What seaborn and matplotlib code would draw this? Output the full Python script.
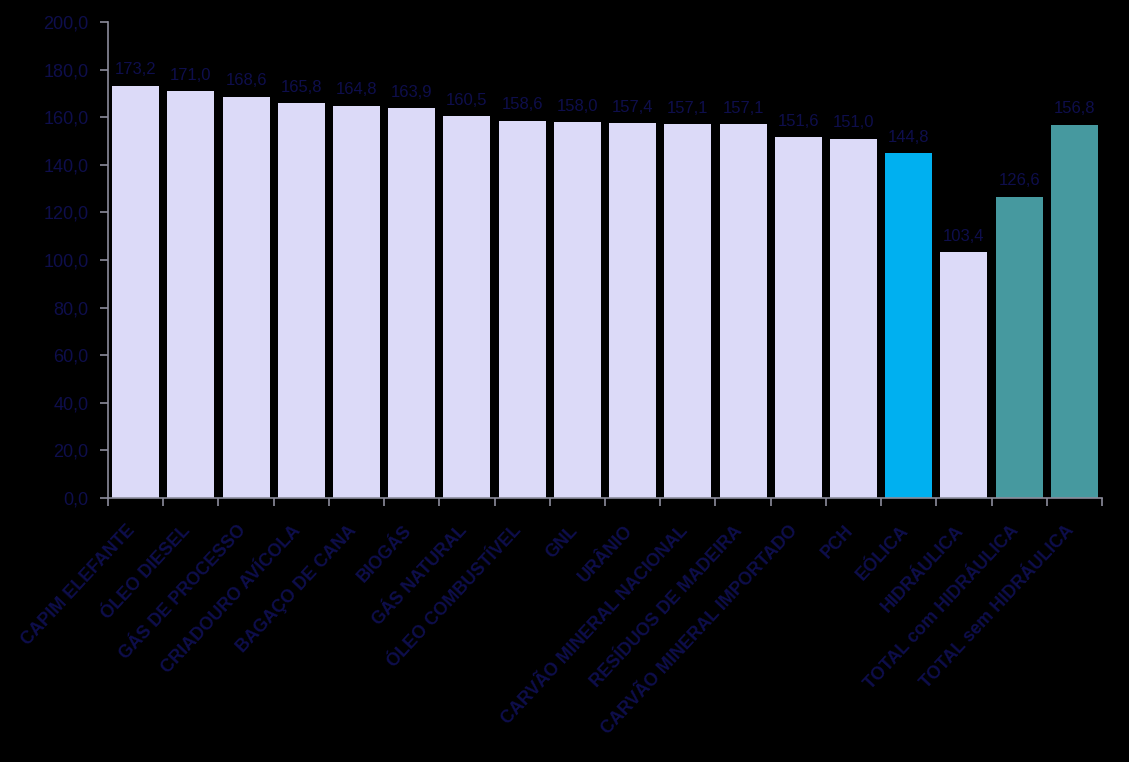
import matplotlib
matplotlib.use("Agg")
import matplotlib.pyplot as plt
import seaborn as sns
import pandas as pd
from matplotlib.transforms import offset_copy

categories = ["CAPIM ELEFANTE", "ÓLEO DIESEL", "GÁS DE PROCESSO", "CRIADOURO AVÍCOLA",
              "BAGAÇO DE CANA", "BIOGÁS", "GÁS NATURAL", "ÓLEO COMBUSTÍVEL", "GNL",
              "URÂNIO", "CARVÃO MINERAL NACIONAL", "RESÍDUOS DE MADEIRA",
              "CARVÃO MINERAL IMPORTADO", "PCH", "EÓLICA", "HIDRÁULICA",
              "TOTAL com HIDRÁULICA", "TOTAL sem HIDRÁULICA"]
values = [173.2, 171.0, 168.6, 165.8, 164.8, 163.9, 160.5, 158.6, 158.0,
          157.4, 157.1, 157.1, 151.6, 151.0, 144.8, 103.4, 126.6, 156.8]
value_labels = ["173,2", "171,0", "168,6", "165,8", "164,8", "163,9", "160,5", "158,6", "158,0",
                "157,4", "157,1", "157,1", "151,6", "151,0", "144,8", "103,4", "126,6", "156,8"]
y_ticks = [0, 20, 40, 60, 80, 100, 120, 140, 160, 180, 200]
y_tick_labels = ["0,0", "20,0", "40,0", "60,0", "80,0", "100,0", "120,0", "140,0",
                 "160,0", "180,0", "200,0"]

LAV = "#dcdaf8"
colors = [LAV] * 14 + ["#00b0f0", LAV, "#46999f", "#46999f"]
TXT = "#0e0e4c"
AX = "#8c8c9c"

df = pd.DataFrame({"cat": categories, "val": values})

fig = plt.figure(figsize=(11.29, 7.62), dpi=100, facecolor="black")
ax = fig.add_axes([108 / 1129, 1 - 498 / 762, (1102 - 108) / 1129, (498 - 22) / 762])
ax.set_facecolor("black")

sns.barplot(data=df, x="cat", y="val", hue="cat", palette=colors, legend=False,
            width=0.85, saturation=1, ax=ax)

ax.set_xlim(-0.5, len(categories) - 0.5)
ax.set_ylim(0, 200)
ax.set_yticks(y_ticks)
ax.set_yticklabels(y_tick_labels, color=TXT, fontsize=13, family="Liberation Sans")
ax.tick_params(axis="y", length=6, color=AX, width=1.2, pad=8)

# x ticks at category boundaries
ax.set_xticks([i - 0.5 for i in range(len(categories) + 1)])
ax.set_xticklabels([])
ax.tick_params(axis="x", length=6, color=AX, width=1.2)

for s in ["top", "right"]:
    ax.spines[s].set_visible(False)
for s in ["left", "bottom"]:
    ax.spines[s].set_color(AX)
    ax.spines[s].set_linewidth(1.2)
ax.set_xlabel("")
ax.set_ylabel("")

# category labels
trans = offset_copy(ax.get_xaxis_transform(), fig=fig, x=-3, y=-30, units="dots")
for i, c in enumerate(categories):
    ax.text(i, 0, c, transform=trans, rotation=47, rotation_mode="anchor",
            ha="right", va="center", fontsize=13, fontweight="bold", color=TXT,
            family="Liberation Sans")

# value labels
for i, (v, lab) in enumerate(zip(values, value_labels)):
    ax.annotate(lab, (i, v), xytext=(0, 6), textcoords="offset points",
                ha="center", va="bottom", fontsize=12, color=TXT,
                family="Liberation Sans")

fig.savefig("out.png", dpi=100, facecolor="black")
